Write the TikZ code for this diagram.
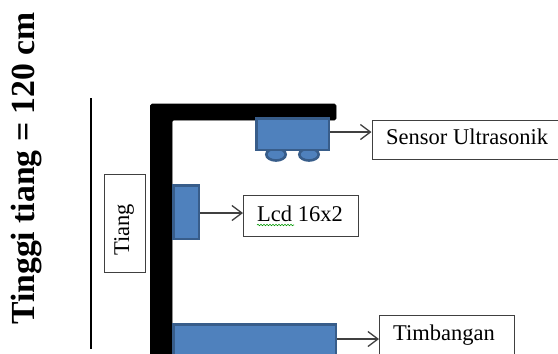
\documentclass[tikz,border=0pt]{standalone}
\usepackage{fontspec}
\setmainfont{Liberation Serif}
\usetikzlibrary{arrows.meta,decorations.pathmorphing}
\definecolor{blueF}{HTML}{4F81BD}
\definecolor{blueE}{HTML}{385D8A}
\definecolor{boxE}{HTML}{404040}
\tikzset{
  x=1pt,y=-1pt,
  labelbox/.style={draw=boxE,line width=1.2pt,fill=white,inner sep=0pt,anchor=north west},
  labeltext/.style={anchor=west,inner sep=0pt,font=\fontsize{22.5}{26}\selectfont},
  part/.style={draw=blueE,line width=2.6pt,fill=blueF,inner sep=0pt,anchor=north west},
  wheel/.style={draw=blueE,line width=2.6pt,fill=blueF},
  link/.style={draw=boxE,line width=1.2pt,-{Straight Barb[length=10pt,width=15pt,line width=1.3pt]}},
  pole/.style={fill=black,draw=black,line width=0.6pt,rounded corners=1.5pt}
}
\begin{document}
\begin{tikzpicture}
\useasboundingbox (0,0) rectangle (558,354);
\clip (0,0) rectangle (558,354);
\fill[white] (0,0) rectangle (558,354);
% pole
\draw[pole] (150.5,370) -- (150.5,104) -- (336,104) -- (336,120) -- (172,120) -- (172,370) -- cycle;
% height rule
\coordinate (ruleTop) at (91,98);
\coordinate (ruleBottom) at (91,349);
\draw[black,line width=1.5pt] (ruleTop) -- (ruleBottom);
\node[rotate=90,font=\fontsize{33.7}{38}\bfseries\selectfont,inner sep=0pt] (height) at (27,168.5) {Tinggi tiang = 120 cm};
% wheels and sensor
\draw[wheel] (276,154.5) ellipse (9.7 and 6);
\draw[wheel] (309,154.5) ellipse (9.7 and 6);
\node[part,minimum width=72.4pt,minimum height=31.4pt] (sensor) at (255.3,117.3) {};
\node[part,minimum width=25.4pt,minimum height=53.4pt] (lcd) at (172.3,184.3) {};
\node[part,minimum width=162.4pt,minimum height=50pt] (scale) at (172.3,323.3) {};
% labels
\node[labelbox,minimum width=190pt,minimum height=39pt] (sensorbox) at (371.5,119.5) {};
\node[labeltext] (sensortext) at (386,137) {Sensor Ultrasonik};
\node[labelbox,minimum width=115pt,minimum height=41pt] (lcdbox) at (243,195) {};
\node[labeltext] (lcdtext) at (257,214) {Lcd 16x2};
\draw[green!60!black,line width=0.6pt,decorate,decoration={snake,amplitude=0.7pt,segment length=3pt}] (257,225) -- (294,225);
\node[labelbox,minimum width=135pt,minimum height=60pt] (scalebox) at (379,314.5) {};
\node[labeltext] (scaletext) at (393,335) {Timbangan};
\node[labelbox,minimum width=41pt,minimum height=98pt] (tiangbox) at (104,174) {};
\node[rotate=90,inner sep=0pt,font=\fontsize{22.5}{26}\selectfont] (tiangtext) at (124,230) {Tiang};
% arrows
\draw[link] (sensor.east |- 0,132) -- (sensorbox.west |- 0,132);
\draw[link] (lcd.east |- 0,213) -- (lcdbox.west |- 0,213);
\draw[link] (scale.east |- 0,339) -- (scalebox.west |- 0,339);
\end{tikzpicture}
\end{document}
